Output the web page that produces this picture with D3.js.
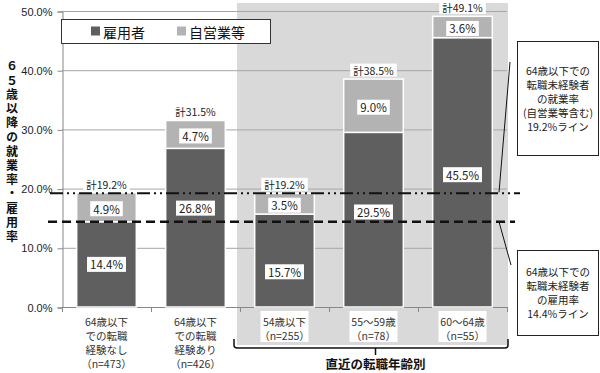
<!DOCTYPE html>
<html>
<head>
<meta charset="utf-8">
<script src="https://cdnjs.cloudflare.com/ajax/libs/d3/7.8.5/d3.min.js"></script>
<style>
  body { margin: 0; background: #fff; }
  svg { display: block; font-family: "Noto Sans CJK JP", "Noto Sans", sans-serif; }
</style>
</head>
<body>
<div id="chart"></div>
<script>
// data
var categoryLines = [
    ["64歳以下", "での転職", "経験なし", "（n=473）"],
    ["64歳以下", "での転職", "経験あり", "（n=426）"],
    ["54歳以下", "（n=255）"],
    ["55～59歳", "（n=78）"],
    ["60～64歳", "（n=55）"]
];
var employed = [14.4, 26.8, 15.7, 29.5, 45.5];
var selfEmployed = [4.9, 4.7, 3.5, 9.0, 3.6];
var totals = [19.2, 31.5, 19.2, 38.5, 49.1];
var yTicks = [0, 10, 20, 30, 40, 50];
var seriesNames = ["雇用者", "自営業等"];
var refLineValues = [19.2, 14.4];
var groupLabel = "直近の転職年齢別";
var yTitle = "６５歳以降の就業率・雇用率";
var noteTop = ["64歳以下での", "転職未経験者", "の就業率", "(自営業等含む)", "19.2%ライン"];
var noteBottom = ["64歳以下での", "転職未経験者", "の雇用率", "14.4%ライン"];

var layout = {
    "width": 600,
    "height": 373,
    "left": 62, "right": 507, "top": 11, "bottom": 307
};
var colors = { "emp": "#5f5f5f", "self": "#b3b3b3", "shade": "#d9d9d9", "grid": "#a6a6a6" };

var svg = d3.select("#chart").append("svg")
    .attr("width", layout.width)
    .attr("height", layout.height);

var idx = d3.range(employed.length);

var x = d3.scaleBand()
    .domain(idx)
    .range([layout.left, layout.right])
    .paddingInner(0.33)
    .paddingOuter(0.165);

var y = d3.scaleLinear()
    .domain([0, 50])
    .range([layout.bottom, layout.top]);

var step = x.step();
var edge = i => layout.left + i * step;   // band boundary

// shaded group (last three categories)
svg.append("rect")
    .attr("x", edge(2) - 3)
    .attr("y", 3)
    .attr("width", layout.right + 1 - (edge(2) - 3))
    .attr("height", 345 - 3)
    .attr("fill", colors.shade);

// gridlines
svg.append("g")
    .selectAll("line")
    .data(yTicks.filter(d => d > 0))
    .enter()
    .append("line")
    .attr("x1", layout.left)
    .attr("x2", layout.right)
    .attr("y1", d => y(d) + 0.5)
    .attr("y2", d => y(d) + 0.5)
    .attr("stroke", colors.grid)
    .attr("stroke-width", 1);

// y axis
var yAxis = d3.axisLeft(y)
    .tickValues(yTicks)
    .tickFormat(d => d3.format(".1f")(d) + "%")
    .tickSize(5)
    .tickPadding(5);

var yg = svg.append("g")
    .attr("transform", "translate(" + (layout.left + 0.5) + ",0.5)")
    .call(yAxis);
yg.select(".domain").attr("stroke", "#888");
yg.selectAll(".tick line").attr("stroke", "#888");
yg.selectAll(".tick text")
    .attr("font-size", 11)
    .attr("fill", "#222")
    .attr("font-family", "'Liberation Sans', Arial, sans-serif");

// x axis line and ticks at band boundaries
svg.append("line")
    .attr("x1", layout.left).attr("x2", layout.right)
    .attr("y1", layout.bottom + 0.5).attr("y2", layout.bottom + 0.5)
    .attr("stroke", "#888");
svg.append("g")
    .selectAll("line")
    .data(d3.range(employed.length + 1))
    .enter()
    .append("line")
    .attr("x1", d => edge(d) + 0.5)
    .attr("x2", d => edge(d) + 0.5)
    .attr("y1", layout.bottom)
    .attr("y2", layout.bottom + 5)
    .attr("stroke", "#888");

// bars
var bars = svg.append("g");
bars.selectAll("rect.emp")
    .data(idx)
    .enter()
    .append("rect")
    .attr("class", "emp")
    .attr("x", i => x(i))
    .attr("y", i => y(employed[i]))
    .attr("width", x.bandwidth())
    .attr("height", i => y(0) - y(employed[i]))
    .attr("fill", colors.emp)
    .attr("stroke", "#fff")
    .attr("stroke-width", 1.5);

bars.selectAll("rect.self")
    .data(idx)
    .enter()
    .append("rect")
    .attr("class", "self")
    .attr("x", i => x(i))
    .attr("y", i => y(employed[i] + selfEmployed[i]))
    .attr("width", x.bandwidth())
    .attr("height", i => y(employed[i]) - y(employed[i] + selfEmployed[i]))
    .attr("fill", colors.self)
    .attr("stroke", "#fff")
    .attr("stroke-width", 1.5);

// boxed text helper
function boxLabel(g, cx, cy, text, size, padX, h) {
    var t = g.append("text")
        .attr("x", cx)
        .attr("y", cy)
        .attr("text-anchor", "middle")
        .attr("dominant-baseline", "central")
        .attr("font-size", size)
        .attr("fill", "#222")
        .text(text);
    var w = t.node().getComputedTextLength();
    g.insert("rect", "text")
        .attr("x", cx - w / 2 - padX)
        .attr("y", cy - h / 2)
        .attr("width", w + padX * 2)
        .attr("height", h)
        .attr("fill", "#fff");
}

// value labels (a few nudged off the reference lines like in the original)
var empShift = [0, 3.3, -1.9, 1.3, -0.4];
var labels = svg.append("g");
idx.forEach(i => {
    var cx = x(i) + x.bandwidth() / 2;
    boxLabel(labels.append("g"), cx, y(employed[i] / 2 + empShift[i]), d3.format(".1f")(employed[i]) + "%", 11.5, 3, 15);
    boxLabel(labels.append("g"), cx, y(employed[i] + selfEmployed[i] / 2) + 1.5, d3.format(".1f")(selfEmployed[i]) + "%", 11.5, 3, 15);
    boxLabel(labels.append("g"), cx, y(totals[i]) - 9, "計" + d3.format(".1f")(totals[i]) + "%", 10.5, 3, 13);
});

// reference lines
svg.append("line")
    .attr("x1", 50).attr("x2", 520)
    .attr("y1", y(refLineValues[0])).attr("y2", y(refLineValues[0]))
    .attr("stroke", "#111")
    .attr("stroke-width", 2)
    .attr("stroke-dasharray", "13,4,2,4,2,4");
svg.append("line")
    .attr("x1", 48).attr("x2", 515)
    .attr("y1", y(refLineValues[1])).attr("y2", y(refLineValues[1]))
    .attr("stroke", "#111")
    .attr("stroke-width", 2.5)
    .attr("stroke-dasharray", "9,5");

// x category labels, one text block per category
idx.forEach(i => {
    var lines = categoryLines[i];
    var cx = x(i) + x.bandwidth() / 2;
    var lh = 14;
    var g = svg.append("g");
    if (i >= 2) {
        g.append("rect")
            .attr("x", cx - 24)
            .attr("y", 311)
            .attr("width", 48)
            .attr("height", 31)
            .attr("fill", "#fff");
    }
    var t = g.append("text")
        .attr("x", cx)
        .attr("y", 326)
        .attr("text-anchor", "middle")
        .attr("font-size", 10.5)
        .attr("fill", "#333");
    lines.forEach((s, k) => {
        t.append("tspan")
            .attr("x", cx)
            .attr("dy", k === 0 ? 0 : lh)
            .text(s);
    });
});

// bracket under the grouped categories
var bx0 = edge(2) - 6, bx1 = layout.right + 1, by = 348, bmid = (edge(2) + layout.right) / 2 + 2;
svg.append("path")
    .attr("d", "M" + bx0 + ",339 L" + bx0 + "," + (by - 3) + " Q" + bx0 + "," + by + " " + (bx0 + 3) + "," + by +
        " L" + (bx1 - 3) + "," + by + " Q" + bx1 + "," + by + " " + bx1 + "," + (by - 3) + " L" + bx1 + ",339" +
        " M" + bmid + "," + by + " L" + bmid + "," + (by + 7))
    .attr("fill", "none")
    .attr("stroke", "#111")
    .attr("stroke-width", 1.5);
svg.append("text")
    .attr("x", bmid)
    .attr("y", 363)
    .attr("text-anchor", "middle")
    .attr("dominant-baseline", "central")
    .attr("font-size", 12.5)
    .attr("font-weight", "bold")
    .attr("fill", "#111")
    .text(groupLabel);

// legend
var legend = svg.append("g");
legend.append("rect")
    .attr("x", 61.5).attr("y", 19.5)
    .attr("width", 209).attr("height", 24)
    .attr("fill", "#fff")
    .attr("stroke", "#333");
[colors.emp, colors.self].forEach((c, k) => {
    var lx = k === 0 ? 91 : 177;
    legend.append("rect")
        .attr("x", lx).attr("y", 26.5)
        .attr("width", 9).attr("height", 9)
        .attr("fill", c);
    legend.append("text")
        .attr("x", lx + 12).attr("y", 31.5)
        .attr("dominant-baseline", "central")
        .attr("font-size", 14)
        .attr("fill", "#111")
        .text(seriesNames[k]);
});

// y axis title, written vertically
svg.append("text")
    .attr("x", 12)
    .attr("y", 60)
    .attr("writing-mode", "vertical-rl")
    .style("text-orientation", "upright")
    .attr("letter-spacing", 2.2)
    .attr("font-size", 12)
    .attr("font-weight", "bold")
    .attr("fill", "#111")
    .text(yTitle);

// callout notes
function note(lines, top, h, y0, lh) {
    var g = svg.append("g");
    g.append("rect")
        .attr("x", 517.5).attr("y", top + 0.5)
        .attr("width", 81).attr("height", h)
        .attr("fill", "#fff")
        .attr("stroke", "#222");
    var t = g.append("text")
        .attr("x", 558)
        .attr("y", y0 + 3.5)
        .attr("text-anchor", "middle")
        .attr("font-size", 10.5)
        .attr("fill", "#222");
    lines.forEach((s, k) => {
        t.append("tspan")
            .attr("x", 558)
            .attr("dy", k === 0 ? 0 : lh)
            .text(s);
    });
}
note(noteTop, 41, 114, 71, 14);
note(noteBottom, 250, 85, 272, 14);

// leader lines from the notes to the reference lines
svg.append("line")
    .attr("x1", 510).attr("y1", 62)
    .attr("x2", 499).attr("y2", y(refLineValues[0]) - 1)
    .attr("stroke", "#111").attr("stroke-width", 1);
svg.append("line")
    .attr("x1", 499).attr("y1", y(refLineValues[1]))
    .attr("x2", 511).attr("y2", 265)
    .attr("stroke", "#111").attr("stroke-width", 1);
</script>
</body>
</html>
